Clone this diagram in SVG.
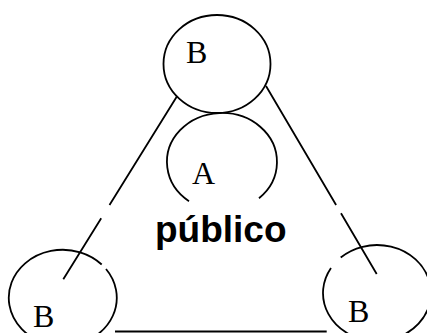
<svg xmlns="http://www.w3.org/2000/svg" width="427" height="333" viewBox="0 0 427 333">
<style>
.s{fill:none;stroke:#000;stroke-width:1.8}
.t{font-family:"Liberation Serif","Times New Roman",serif;font-size:32px;fill:#000}
.p{font-family:"Liberation Sans",Arial,sans-serif;font-size:37px;font-weight:bold;fill:#000}
</style>
<rect width="427" height="333" fill="#fff"/>
<g id="connectors">
<path class="s" d="M176.7,96.7 L109.5,205 M101.2,218.3 L63.3,279.3"/>
<path class="s" d="M266,86 L336.1,205 M341,213.3 L376.7,274"/>
<path class="s" d="M115,331.5 L326.7,331.5"/>
</g>
<g id="nodeTopB">
<ellipse class="s" cx="217" cy="64" rx="53.5" ry="49"/>
<text class="t" x="186" y="63">B</text>
</g>
<g id="nodeA">
<path class="s" d="M189,201.2 A55,49 0 1 1 259,198.2"/>
<text class="t" x="192" y="184">A</text>
</g>
<g id="nodeLeftB">
<path class="s" d="M106,269 A54,48 0 1 1 101.7,264.5"/>
<text class="t" x="33" y="326.7">B</text>
</g>
<g id="nodeRightB">
<path class="s" d="M340.7,257.5 A54,48 0 1 1 331,267.9"/>
<text class="t" x="348" y="321.7">B</text>
</g>
<g id="label">
<text class="p" x="155" y="242">público</text>
</g>
</svg>
